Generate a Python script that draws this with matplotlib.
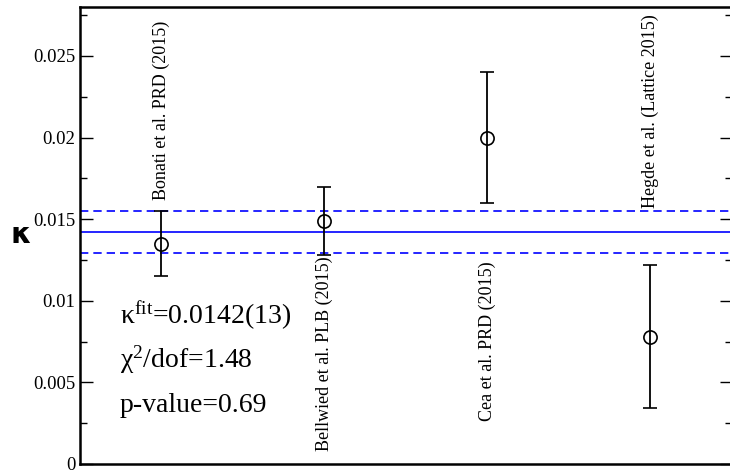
import numpy as np
from matplotlib import pyplot as plt
from matplotlib.ticker import MultipleLocator, FuncFormatter

# Resultados de kappa por grupo
autores = ["Bonati et al. PRD (2015)", "Bellwied et al. PLB (2015)",
           "Cea et al. PRD (2015)", "Hegde et al. (Lattice 2015)"]
kappa = [0.0135, 0.0149, 0.0200, 0.0078]
err_kappa = [0.0020, 0.0021, 0.0040, 0.0044]
# altura de cada etiqueta y si va arriba (bottom) o abajo (top) de ella
y_etiqueta = [0.0162, 0.0127, 0.0124, 0.0157]
alineacion = ["bottom", "top", "top", "bottom"]

# Ajuste constante
kappa_fit = 0.0142
err_fit = 0.0013
chi2_dof = 1.48
p_valor = 0.69

plt.rcParams['font.family'] = ['Liberation Serif', 'DejaVu Serif']

fig = plt.figure(figsize=(7.3, 4.71), dpi=100)
ax = fig.add_axes([0.1096, 0.0149, 0.893, 0.9703])

x = np.arange(len(kappa)) + 0.5
ax.errorbar(x, kappa, yerr=err_kappa, fmt="o", mfc="none", mec="black",
            ms=9.5, mew=1.2, ecolor="black", elinewidth=1.3, capsize=4.8,
            capthick=1.3, color="black", zorder=3)

ax.axhline(kappa_fit, color="blue", lw=1.2)
ax.axhline(kappa_fit + err_fit, color="blue", lw=1.2, ls=(0, (5, 3)))
ax.axhline(kappa_fit - err_fit, color="blue", lw=1.2, ls=(0, (5, 3)))

for xi, ye, nombre, va in zip(x, y_etiqueta, autores, alineacion):
    ax.text(xi, ye, nombre, rotation=90, ha="center", va=va, fontsize=13)

# textos del ajuste en pixeles desde arriba
ax.text(120, 471 - 325, r"$\mathregular{\kappa^{fit}}$=%.4f(13)" % kappa_fit,
        transform=None, fontsize=20, va="baseline")
ax.text(120, 471 - 368, r"$\mathregular{\chi^{2}}$/dof=%.2f" % chi2_dof,
        transform=None, fontsize=20, va="baseline")
ax.text(120, 471 - 412, "p-value=%.2f" % p_valor,
        transform=None, fontsize=20, va="baseline")

ax.set_xlim(0, 4)
ax.set_ylim(0, 0.028)
ax.set_xticks([])
ax.yaxis.set_major_locator(MultipleLocator(0.005))
ax.yaxis.set_minor_locator(MultipleLocator(0.0025))
ax.yaxis.set_major_formatter(FuncFormatter(lambda v, p: "0" if v == 0 else ("%g" % v)))
ax.tick_params(axis="y", which="both", direction="in", right=True,
               labelsize=13.5, width=1.0)
ax.tick_params(axis="y", which="major", length=9)
ax.tick_params(axis="y", which="minor", length=5)
for s in ax.spines.values():
    s.set_linewidth(1.8)

ax.set_ylabel("κ", fontsize=21, fontweight="bold", family="DejaVu Sans",
              rotation=0, labelpad=9, va="center")

fig.savefig("out.png", dpi=100)
